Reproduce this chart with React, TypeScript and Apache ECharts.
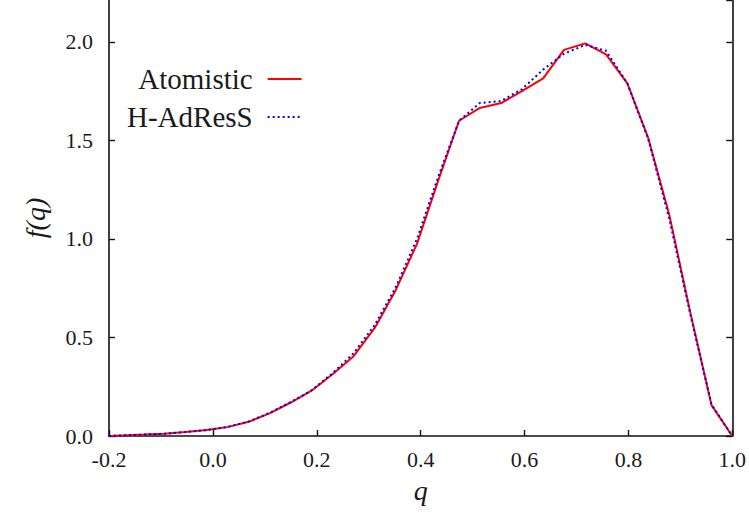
import React, { useEffect, useRef } from "react";
import * as echarts from "echarts";

const qValues = [-0.2, -0.174, -0.134, -0.093, -0.053, -0.012, 0.028, 0.069, 0.109, 0.15, 0.19, 0.231, 0.271, 0.312, 0.352, 0.393, 0.433, 0.474, 0.514, 0.555, 0.595, 0.636, 0.676, 0.717, 0.757, 0.798, 0.838, 0.879, 0.919, 0.96, 1.0];
const atomistic = [0.0, 0.003, 0.007, 0.012, 0.02, 0.03, 0.045, 0.072, 0.115, 0.17, 0.23, 0.315, 0.405, 0.55, 0.74, 0.975, 1.29, 1.6, 1.665, 1.69, 1.75, 1.815, 1.96, 1.993, 1.937, 1.79, 1.515, 1.12, 0.63, 0.157, 0.0];
const hadress = [0.0, 0.003, 0.007, 0.012, 0.02, 0.03, 0.046, 0.074, 0.117, 0.172, 0.232, 0.32, 0.42, 0.565, 0.755, 1.0, 1.31, 1.6, 1.69, 1.7, 1.76, 1.86, 1.94, 1.985, 1.955, 1.79, 1.51, 1.1, 0.62, 0.16, 0.0];
const seriesNames = ["Atomistic", "H-AdResS"];

const FONT = "Liberation Serif";

export default function App() {
  const ref = useRef<HTMLDivElement>(null);
  useEffect(() => {
    document.body.style.margin = "0";
    const chart = echarts.init(ref.current!, null, { renderer: "svg" });
    const axisLine = { show: true, onZero: false, lineStyle: { color: "#111", width: 1.6 } };
    const tick = { show: true, inside: true, length: 6, lineStyle: { color: "#111", width: 1.4 } };
    const labelStyle = { fontFamily: FONT, fontSize: 22, color: "#1a1a1a" };
    chart.setOption({
      animation: false,
      backgroundColor: "#fff",
      grid: { left: 109, right: 15.5, top: 0, bottom: 77, containLabel: false },
      legend: {
        orient: "vertical",
        align: "right",
        left: 127,
        top: 64,
        padding: 0,
        itemGap: 8,
        itemWidth: 34,
        itemHeight: 14,
        itemStyle: { opacity: 0 },
        textStyle: { fontFamily: FONT, fontSize: 29, lineHeight: 30, color: "#1a1a1a", padding: [0, 10, 0, 0] },
        data: seriesNames,
      },
      xAxis: [
        {
          type: "value",
          position: "bottom",
          min: -0.2,
          max: 1.0,
          interval: 0.2,
          axisLine,
          axisTick: tick,
          splitLine: { show: false },
          axisLabel: { ...labelStyle, margin: 12, formatter: (v: number) => v.toFixed(1) },
          name: "q",
          nameLocation: "middle",
          nameGap: 40,
          nameTextStyle: { fontFamily: FONT, fontStyle: "italic", fontSize: 28, color: "#1a1a1a" },
        },
      ],
      yAxis: [
        {
          type: "value",
          position: "left",
          min: 0,
          max: 2.213,
          interval: 0.5,
          axisLine,
          axisTick: tick,
          splitLine: { show: false },
          axisLabel: { ...labelStyle, margin: 16, showMaxLabel: false, formatter: (v: number) => (v > 2.05 ? "" : v.toFixed(1)) },
          name: "f(q)",
          nameLocation: "middle",
          nameRotate: 90,
          nameGap: 60,
          nameTextStyle: { fontFamily: FONT, fontStyle: "italic", fontSize: 28, color: "#1a1a1a" },
        },
        {
          type: "value",
          position: "right",
          min: 0,
          max: 2.213,
          interval: 0.5,
          axisLine,
          axisTick: tick,
          splitLine: { show: false },
          axisLabel: { show: false },
        },
      ],
      series: [
        {
          name: seriesNames[0],
          type: "line",
          xAxisIndex: 0,
          yAxisIndex: 0,
          symbol: "none",
          data: qValues.map((q, i) => [q, atomistic[i]]),
          lineStyle: { color: "#ff0000", width: 2 },
          itemStyle: { color: "#ff0000" },
        },
        {
          name: seriesNames[1],
          type: "line",
          xAxisIndex: 0,
          yAxisIndex: 0,
          symbol: "none",
          data: qValues.map((q, i) => [q, hadress[i]]),
          lineStyle: { color: "#0000ff", width: 2, type: [2, 3] },
          itemStyle: { color: "#0000ff" },
        },
      ],
    });
    return () => chart.dispose();
  }, []);
  return <div ref={ref} style={{ width: 749, height: 513 }} />;
}
